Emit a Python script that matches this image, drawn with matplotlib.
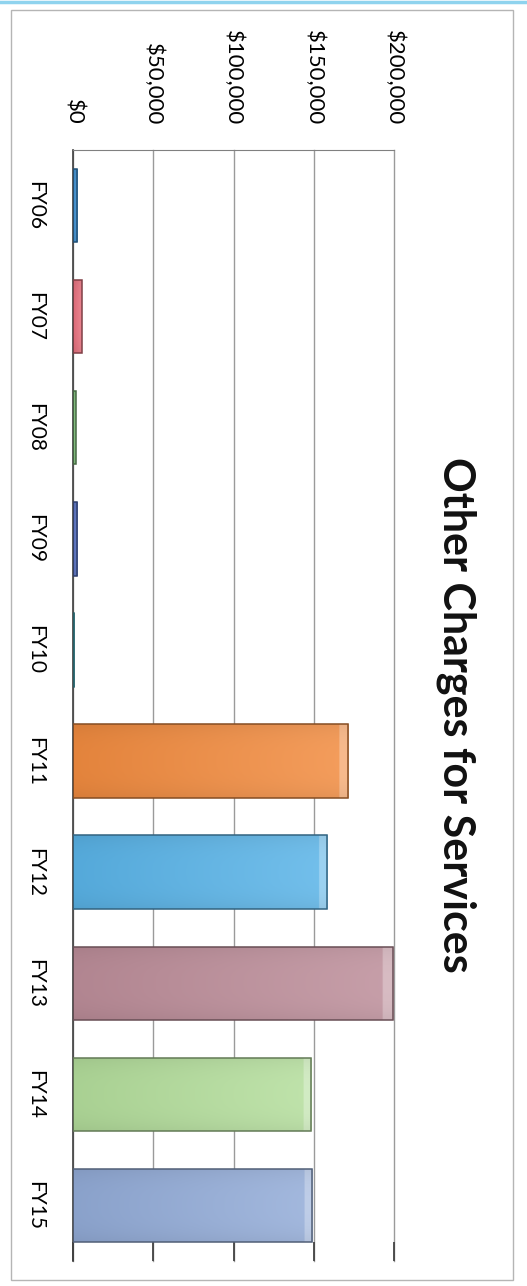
import numpy as np
import matplotlib
matplotlib.use("Agg")
import matplotlib.pyplot as plt
from matplotlib.patches import Rectangle
from matplotlib.colors import to_rgb
from matplotlib.ticker import FuncFormatter
from matplotlib.lines import Line2D

# Fiscal years and amounts
years = ["FY06", "FY07", "FY08", "FY09", "FY10", "FY11", "FY12", "FY13", "FY14", "FY15"]
amounts = [2500, 5500, 1800, 2500, 700, 171500, 158500, 199500, 148500, 149000]
value_ticks = [0, 50000, 100000, 150000, 200000]
bar_colors = ["#3C8FD2", "#E8707E", "#7DBE78", "#5670C2", "#4BAAB8",
              "#F28C40", "#5AB4E8", "#BD8E9A", "#B4DE9C", "#93ACD8"]
title = "Other Charges for Services"

plt.rcParams["font.family"] = ["Lato", "DejaVu Sans"]

W, H = 527, 1286
fig = plt.figure(figsize=(W / 100, H / 100), dpi=100)
fig.patch.set_facecolor("white")

# outer chart frame
fig.add_artist(Rectangle((11 / W, 1 - 1280 / H), 502 / W, 1270 / H,
                         transform=fig.transFigure, fill=False,
                         edgecolor="#B5B5B5", lw=1.0))
fig.add_artist(Line2D([0, 1], [1 - 1.5 / H, 1 - 1.5 / H], transform=fig.transFigure,
                      color="#8FD3EE", lw=2.5))

left, right = 73, 394
top, bottom = 150, 1261
ax = fig.add_axes([left / W, 1 - bottom / H, (right - left) / W, (bottom - top) / H])

def shade(c, f):
    c = np.array(to_rgb(c))
    if f < 0:
        return c * (1 + f)
    return c + (1 - c) * f

ypos = np.arange(len(years))
bars = ax.barh(ypos, amounts, height=0.66, color="none",
               edgecolor=[shade(c, -0.45) for c in bar_colors], lw=1.1, zorder=3)

# gradient fill for each bar, clipped to the bar outline
for b, c in zip(bars, bar_colors):
    x0, y0 = b.get_x(), b.get_y()
    w, h = b.get_width(), b.get_height()
    n = 200
    t = np.linspace(0, 1, n)
    base_dark = shade(c, -0.06)
    base_light = shade(c, 0.15)
    row = base_dark[None, :] * (1 - t[:, None]) + base_light[None, :] * t[:, None]
    hl = t > 0.965
    row[hl] = shade(c, 0.4)
    img = np.repeat(row[None, :, :], 20, axis=0)
    across = np.linspace(-1, 1, 20)
    dim = 1 - 0.05 * np.abs(across) ** 3
    img = img * dim[:, None, None]
    im = ax.imshow(np.clip(img, 0, 1), extent=(x0, x0 + w, y0 + h, y0),
                   aspect="auto", zorder=2.5, interpolation="bilinear")
    im.set_clip_path(b)

ax.set_xlim(0, 200000)
ax.set_ylim(len(years) - 0.5, -0.5)
ax.set_xticks(value_ticks)
ax.xaxis.set_major_formatter(FuncFormatter(lambda v, p: f"${v:,.0f}"))
ax.xaxis.tick_top()
ax.tick_params(axis="x", which="both", top=False, bottom=True, labeltop=True,
               labelbottom=False, direction="in", length=14, width=1.3,
               color="#444444", pad=18, labelsize=16, labelrotation=-90)
for lab in ax.get_xticklabels():
    lab.set_va("bottom")
    lab.set_ha("center")

ax.set_yticks(ypos)
ax.set_yticklabels(years)
ax.tick_params(axis="y", length=0, pad=20, labelsize=15)
for lab in ax.get_yticklabels():
    lab.set_rotation(-90)
    lab.set_va("center")
    lab.set_ha("right")

ax.grid(axis="x", color="#9A9A9A", lw=1.0, zorder=1)
for gl in ax.get_xgridlines():
    gl.set_clip_on(False)
ax.set_axisbelow(True)
for s in ["right", "bottom"]:
    ax.spines[s].set_visible(False)
ax.spines["top"].set_color("#808080")
ax.spines["left"].set_color("#404040")
ax.spines["left"].set_linewidth(1.2)

fig.text(456 / W, 1 - 715 / H, title, rotation=-90, ha="center", va="center",
         fontsize=31, fontweight="bold", color="#111111")

fig.savefig("out.png", dpi=100)
